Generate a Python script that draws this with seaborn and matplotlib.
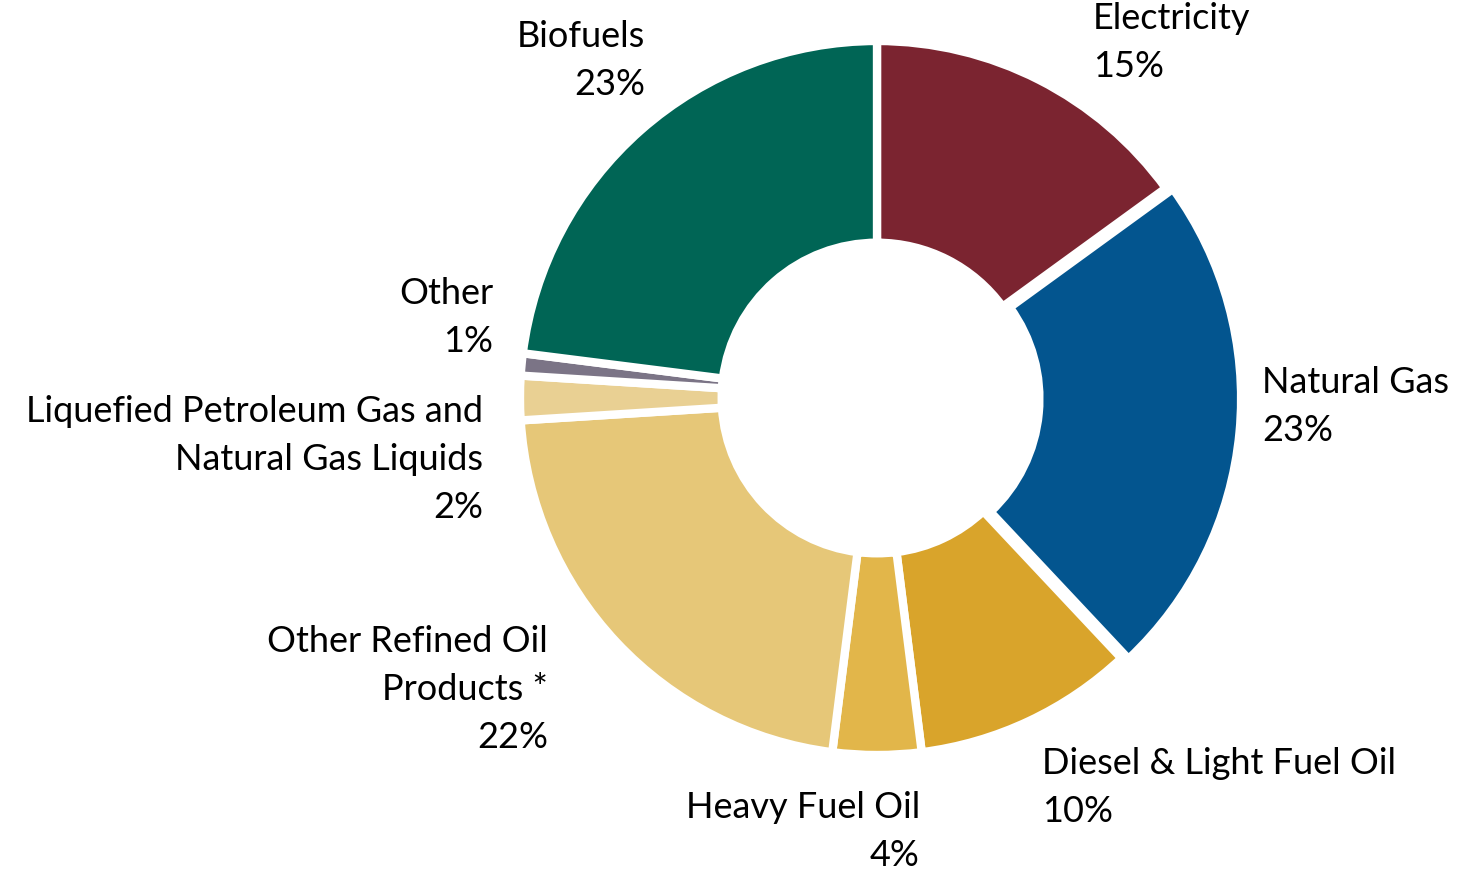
import matplotlib
matplotlib.use("Agg")
import matplotlib.pyplot as plt
import seaborn as sns

# energy mix shares, clockwise from the top
categories = ["Electricity", "Natural Gas", "Diesel & Light Fuel Oil", "Heavy Fuel Oil",
              "Other Refined Oil\nProducts *", "Liquefied Petroleum Gas and\nNatural Gas Liquids",
              "Other", "Biofuels"]
shares = [15, 23, 10, 4, 22, 2, 1, 23]
pct_labels = ["15%", "23%", "10%", "4%", "22%", "2%", "1%", "23%"]

colors = ["#7b2430", "#03558f", "#d9a42b", "#e2b64a", "#e6c778", "#e9d093", "#7b7486", "#006555"]

# label anchors in pixels (x, centre of first line) and alignment
label_pos = [(1093, 17, "left"), (1262, 381, "left"), (1042, 762, "left"), (920, 806, "right"),
             (548, 640, "right"), (483, 410, "right"), (493, 292, "right"), (645, 35, "right")]

sns.set_theme(style="white")
plt.rcParams["font.family"] = ["Lato", "DejaVu Sans"]

W, H = 1458, 877
fig = plt.figure(figsize=(W / 100, H / 100), dpi=100)
cx, cy, R = 877, 398, 357
ax = fig.add_axes([(cx - R) / W, 1 - (cy + R) / H, 2 * R / W, 2 * R / H])

explode = [0.0, 0.02, 0.0, 0.0, 0.0, 0.0, 0.0, 0.0]
ax.pie(shares, colors=colors, startangle=90, counterclock=False, radius=1, explode=explode,
       wedgeprops=dict(width=0.565, edgecolor="white", linewidth=6))
ax.set_xlim(-1, 1)
ax.set_ylim(-1, 1)
ax.set_aspect("equal")
ax.axis("off")

for cat, pct, (px, py, ha) in zip(categories, pct_labels, label_pos):
    fig.text(px / W, 1 - (py - 15) / H, cat + "\n" + pct, ha=ha, va="top", fontsize=26,
             linespacing=1.55, color="black", transform=fig.transFigure)

fig.savefig("out.png", dpi=100)
